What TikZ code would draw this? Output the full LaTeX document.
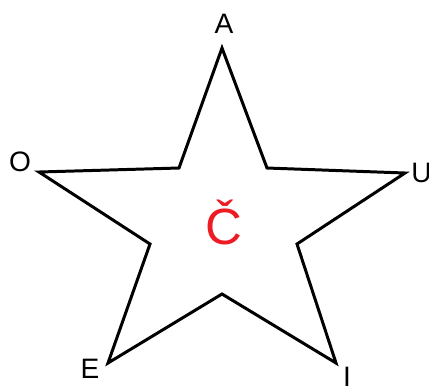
\documentclass[tikz,border=0pt]{standalone}
\usepackage{fontspec}
\setmainfont{Liberation Sans}
\definecolor{starred}{RGB}{237, 28, 36}

\begin{document}
\begin{tikzpicture}[
    x=0.02cm, y=-0.02cm,
    vlabel/.style={font=\fontsize{16}{18}\selectfont, inner sep=0pt},
    edge/.style={line width=1.7pt, line join=miter, black}
]
    \useasboundingbox (0,0) rectangle (429,387);
    % outer points
    \coordinate (a) at (222,48);
    \coordinate (u) at (405,173);
    \coordinate (i) at (336,363);
    \coordinate (e) at (108,363);
    \coordinate (o) at (39,172);
    % inner points
    \coordinate (au) at (267,168);
    \coordinate (ui) at (297,244);
    \coordinate (ie) at (222,294);
    \coordinate (eo) at (150,244);
    \coordinate (oa) at (179,168);

    \draw[edge] (a) -- (au) -- (u) -- (ui) -- (i) -- (ie) -- (e) -- (eo) -- (o) -- (oa) -- cycle;

    \node[vlabel] (la) at (224,24) {A};
    \node[vlabel, anchor=west] (lu) at (411,173) {U};
    \node[vlabel] (li) at (347,377) {I};
    \node[vlabel] (le) at (90,369) {E};
    \node[vlabel] (lo) at (20,162) {O};

    \node[font=\fontsize{29}{32}\selectfont, text=starred, inner sep=0pt] (mid) at (224,222) {Č};
\end{tikzpicture}
\end{document}
